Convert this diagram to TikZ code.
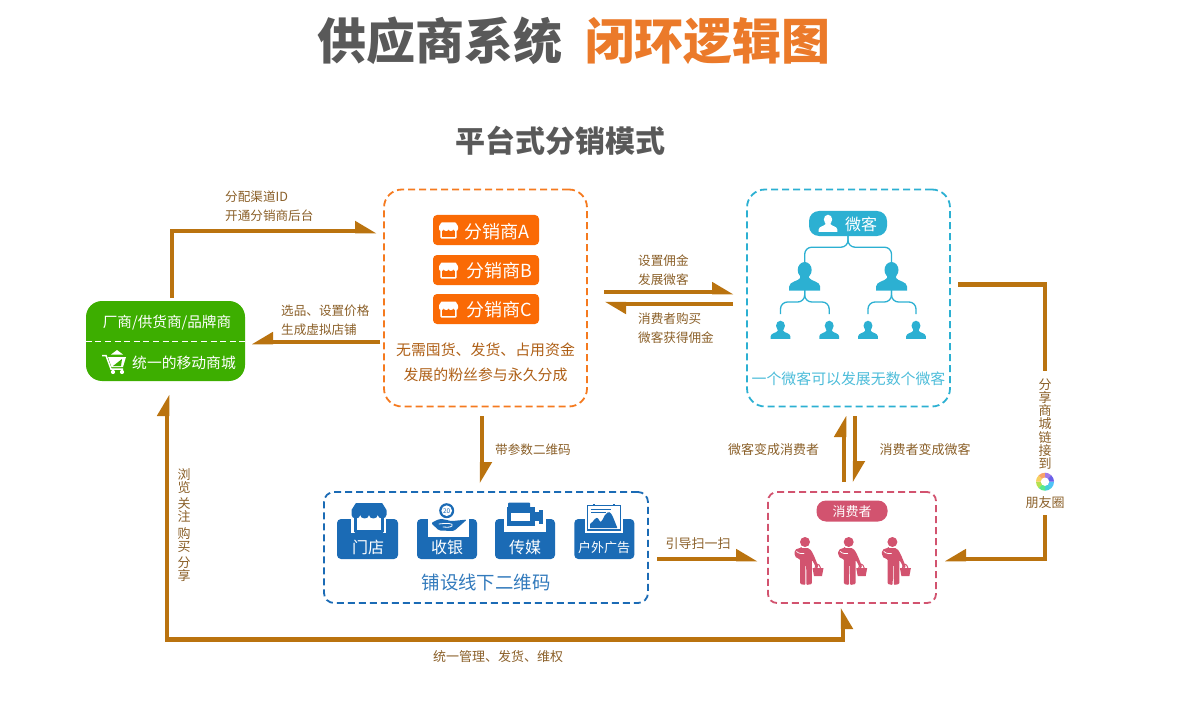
\documentclass[tikz,border=0pt]{standalone}
\usepackage{fontspec}
\setmainfont{Noto Sans CJK SC}
\usetikzlibrary{arrows.meta,calc}
\definecolor{flowc}{HTML}{BA730F}
\definecolor{labelc}{HTML}{8A5F28}
\definecolor{orangec}{HTML}{F57A1F}
\definecolor{btnc}{HTML}{FA6A05}
\definecolor{notec}{HTML}{AE5F16}
\definecolor{cyanc}{HTML}{2CB0D2}
\definecolor{bluec}{HTML}{1B6BB5}
\definecolor{pinkc}{HTML}{D2536F}
\definecolor{greenc}{HTML}{3DAE00}
\definecolor{titlegray}{HTML}{595959}
\definecolor{titleor}{HTML}{EB7A2A}
\pgfdeclarearrow{name=halfl,
  setup code={\pgfarrowssettipend{0pt}\pgfarrowssetlineend{-20pt}\pgfarrowssetbackend{-21pt}\pgfarrowssetvisualbackend{-21pt}\pgfarrowshullpoint{0pt}{-2.25pt}\pgfarrowshullpoint{-21pt}{10.25pt}\pgfarrowshullpoint{-21pt}{-2.25pt}},
  drawing code={\pgfpathmoveto{\pgfpoint{0pt}{-2.25pt}}\pgfpathlineto{\pgfpoint{-21pt}{10.25pt}}\pgfpathlineto{\pgfpoint{-21pt}{-2.25pt}}\pgfpathclose\pgfusepathqfill}}
\pgfdeclarearrow{name=halfr,
  setup code={\pgfarrowssettipend{0pt}\pgfarrowssetlineend{-20pt}\pgfarrowssetbackend{-21pt}\pgfarrowssetvisualbackend{-21pt}\pgfarrowshullpoint{0pt}{2.25pt}\pgfarrowshullpoint{-21pt}{-10.25pt}\pgfarrowshullpoint{-21pt}{2.25pt}},
  drawing code={\pgfpathmoveto{\pgfpoint{0pt}{2.25pt}}\pgfpathlineto{\pgfpoint{-21pt}{-10.25pt}}\pgfpathlineto{\pgfpoint{-21pt}{2.25pt}}\pgfpathclose\pgfusepathqfill}}
\tikzset{
  flow/.style={color=flowc,line width=4.5pt},
  conlabel/.style={text=labelc,font=\fontsize{12.6}{18.5}\selectfont,align=left,anchor=west,inner sep=0pt},
  edgelabel/.style={text=labelc,font=\fontsize{13}{13.2}\selectfont,align=center,inner sep=0pt},
  dashbox/.style={draw=#1,line width=1.8pt,dash pattern=on 7pt off 4pt,minimum width=0pt,inner sep=0pt},
  btn/.style={fill=btnc,rounded corners=4pt,minimum width=106pt,minimum height=30pt,inner sep=0pt},
  btntext/.style={text=white,font=\fontsize{18}{18}\selectfont,inner sep=0pt},
  icontext/.style={text=white,font=\fontsize{16}{16}\selectfont,inner sep=0pt},
  tree/.style={draw=cyanc,line width=1.3pt,rounded corners=7pt},
}
% store icon: origin top-left, 20 wide, 17 high
\newcommand{\storeicon}[5]{\begin{scope}[shift={(#1,#2)},scale=#3]
  \fill[#4,rounded corners=1pt] (1.5,4) rectangle (18.5,17);
  \fill[#5] (3,7) rectangle (17,15.5);
  \fill[#4,rounded corners=.5pt] (2.5,0) -- (17.5,0) -- (20,4) -- (20,6.5) .. controls (20,9.5) and (15,9.5) .. (15,6.5) .. controls (15,9.5) and (10,9.5) .. (10,6.5) .. controls (10,9.5) and (5,9.5) .. (5,6.5) .. controls (5,9.5) and (0,9.5) .. (0,6.5) -- (0,4) -- cycle;
\end{scope}}
% person: origin top centre, 31 wide, 28 high
\newcommand{\personicon}[4]{\begin{scope}[shift={(#1,#2)},scale=#3]
  \fill[#4] (0,7.5) ellipse [x radius=7,y radius=8];
  \fill[#4] (-4.5,12) -- (-4.5,15.5) .. controls (-6,18.5) and (-15.5,19) .. (-15.5,24) -- (-15.5,28) -- (15.5,28) -- (15.5,24) .. controls (15.5,19) and (6,18.5) .. (4.5,15.5) -- (4.5,12) -- cycle;
\end{scope}}
% shopper: origin head centre
\newcommand{\shopper}[2]{\begin{scope}[shift={(#1,#2)}]
  \fill[pinkc] (0,0) circle (5);
  \fill[pinkc,rounded corners=1pt] (-4,6) -- (2,6) .. controls (6.5,6.5) and (9.5,15) .. (13.5,25) -- (11,26.5) .. controls (9.5,22) and (8,19.5) .. (6.9,18) -- (6.9,42) -- (1.4,43) -- (1.2,23) -- (0.5,23) -- (0.3,43) -- (-4.8,42) -- (-4.8,17) .. controls (-8.5,17) and (-10.5,14) .. (-10.5,11) .. controls (-10.5,8) and (-8,6) .. (-4,6) -- cycle;
  \draw[white,line width=.7pt,line cap=round] (-8.5,9.5) .. controls (-6,12) and (-3,11.5) .. (-1,11.5);
  \fill[pinkc] (7.5,26) -- (18.5,26) -- (17,34) -- (9,34) -- cycle;
  \draw[pinkc,line width=1pt] (10,26) .. controls (10.5,21) and (14.5,21) .. (15.5,26);
\end{scope}}
\begin{document}
\begin{tikzpicture}[x=1pt,y=-1pt]
\useasboundingbox (0,0) rectangle (1187,706);
% titles
\node[text=titlegray,font=\fontsize{49}{49}\selectfont\bfseries,inner sep=0pt] (title1) at (440,41) {供应商系统};
\node[text=titleor,font=\fontsize{49}{49}\selectfont\bfseries,inner sep=0pt] (title2) at (707.5,41) {闭环逻辑图};
\node[text=titlegray,font=\fontsize{30}{30}\selectfont\bfseries,inner sep=0pt] (title3) at (560.5,141) {平台式分销模式};

% boxes
\node[dashbox=orangec,rounded corners=18pt,minimum width=203pt,minimum height=217pt] (dist) at (485.5,298) {};
\node[dashbox=cyanc,rounded corners=18pt,minimum width=203pt,minimum height=217pt] (micro) at (848.5,298) {};
\node[dashbox=bluec,rounded corners=10pt,minimum width=324pt,minimum height=111pt] (offline) at (486,547.5) {};
\node[dashbox=pinkc,rounded corners=9pt,minimum width=168pt,minimum height=111pt] (cons) at (852,547.5) {};

% mall
\node[fill=greenc,rounded corners=16pt,minimum width=159pt,minimum height=80pt,inner sep=0pt] (mall) at (165.5,341) {};
\node[text=white,font=\fontsize{14.6}{14.6}\selectfont,inner sep=0pt] (malla) at (167,323) {厂商/供货商/品牌商};
\draw[white,line width=1pt,dash pattern=on 6pt off 3.6pt] (mall.west) -- (mall.east);
\node[text=white,font=\fontsize{14.8}{14.8}\selectfont,inner sep=0pt] (mallb) at (184,362.5) {统一的移动商城};
\begin{scope}[shift={(102,350)}]
  \fill[white] (9,4.5) -- (15,0) -- (21,4.5) -- cycle;
  \draw[white,line width=1.5pt] (0,5.5) -- (4,5.5) -- (9,19) -- (21,19);
  \fill[white] (6,7) -- (24,7) -- (21,17) -- (9.5,17) -- cycle;
  \fill[greenc] (11,16) -- (20,9) -- (19,16) -- cycle;
  \fill[white] (11,22) circle (2.1) (20,22) circle (2.1);
\end{scope}

% distributor buttons
\node[btn] (btna) at (486,230) {};
\node[btn] (btnb) at (486,270) {};
\node[btn] (btnc) at (486,309) {};
\storeicon{439}{222.5}{.95}{white}{btnc}
\storeicon{439}{262.5}{.95}{white}{btnc}
\storeicon{439}{301.5}{.95}{white}{btnc}
\node[btntext,anchor=west] (ta) at (464,231.3) {分销商A};
\node[btntext,anchor=west] (tb) at (466,271) {分销商B};
\node[btntext,anchor=west] (tc) at (466,310) {分销商C};
\node[text=notec,font=\fontsize{14.9}{25}\selectfont,align=center,inner sep=0pt] (distnote) at (485.5,362.8) {无需囤货、发货、占用资金\\发展的粉丝参与永久分成};

% micro customers
\node[fill=cyanc,rounded corners=10pt,minimum width=78pt,minimum height=25pt,inner sep=0pt] (wk) at (848,223.5) {};
\node[text=white,font=\fontsize{16}{16}\selectfont,inner sep=0pt] (wkt) at (861,224) {微客};
\personicon{828}{215}{.6}{white}
\coordinate (p1) at (804.7,262);
\coordinate (p2) at (891.5,262);
\coordinate (c1) at (780.5,320);
\coordinate (c2) at (829.2,320);
\coordinate (c3) at (868,320);
\coordinate (c4) at (916,320);
\draw[tree] (wk.south) -- ++(0,11) -| (p1);
\draw[tree] (wk.south) -- ++(0,11) -| (p2);
\personicon{804.7}{262.5}{1}{cyanc}
\personicon{891.5}{262.5}{1}{cyanc}
\coordinate (p1b) at (804.7,290);
\coordinate (p2b) at (891.5,290);
\draw[tree] (p1b) -- ++(0,12) -| ($(c1)+(0,-6)$);
\draw[tree] (p1b) -- ++(0,12) -| ($(c2)+(0,-6)$);
\draw[tree] (p2b) -- ++(0,12) -| ($(c3)+(0,-6)$);
\draw[tree] (p2b) -- ++(0,12) -| ($(c4)+(0,-6)$);
\personicon{780.5}{321}{.64}{cyanc}
\personicon{829.2}{321}{.64}{cyanc}
\personicon{868}{321}{.64}{cyanc}
\personicon{916}{321}{.64}{cyanc}
\node[text=cyanc!85!white,font=\fontsize{14.9}{14.9}\selectfont,inner sep=0pt] (micronote) at (848.5,379) {一个微客可以发展无数个微客};

% offline blocks
\foreach \n/\x/\w/\nl/\nr/\nb in {o1/337/61/351/386/533,o2/417/60/428/469/537,o3/495/60/504/546/532,o4/574.3/60/585/623/533}{
  \fill[bluec,rounded corners=4pt] (\x,519) rectangle ++(\w,40);
  \fill[white] (\nl,517) rectangle (\nr,\nb);
}
\node[icontext] (t1) at (368,547) {门店};
\node[icontext] (t2) at (447,547) {收银};
\node[icontext] (t3) at (525,547) {传媒};
\node[text=white,font=\fontsize{13}{13}\selectfont,inner sep=0pt] (t4) at (604,547.5) {户外广告};
\storeicon{351.5}{503}{1.75}{bluec}{white}
% coin and hand
\fill[bluec] (446.7,510.7) circle (7.5);
\fill[white] (446.7,510.7) circle (5.3);
\node[text=bluec,font=\fontsize{6.5}{6.5}\selectfont,inner sep=0pt] (coin) at (446.7,510.7) {20};
\fill[bluec,rounded corners=1.5pt] (431,523) -- (438,519.5) .. controls (444,518.5) and (449,521) .. (453,521) -- (467,519.5) -- (454,531) -- (439,530.5) -- cycle;
\draw[white,line width=.8pt,line cap=round] (439,524) .. controls (445,523) and (455,523) .. (452,526) .. controls (450,527.5) and (446,527.5) .. (443,527);
% camera
\fill[bluec,rounded corners=1pt] (508,502.5) rectangle (530,509);
\fill[bluec] (506.5,507) rectangle (534.5,526);
\fill[white] (511,512.5) rectangle (530,520.5);
\fill[bluec] (534,512) rectangle (539,521);
\fill[bluec] (539,509.5) rectangle (543,524);
% billboard
\draw[bluec,line width=1.8pt] (587.5,505.5) rectangle (620.5,530);
\draw[bluec,line width=1.5pt] (594,504) -- (594,505.5) (614,504) -- (614,505.5);
\fill[bluec] (590,524) .. controls (594,522) and (596,514) .. (599,520) .. controls (602,526) and (604,514) .. (606,514) .. controls (611,508) and (613,518) .. (617,527) -- (617,528) -- (590,528) -- cycle;
\draw[bluec,line width=.8pt] (591,509.5) -- (611,509.5) (591,512.5) -- (606,512.5);
\node[text=bluec!90!white,font=\fontsize{18.4}{18.4}\selectfont,inner sep=0pt] (offnote) at (486,582.5) {铺设线下二维码};

% consumers
\node[fill=pinkc,rounded corners=9.5pt,minimum width=71pt,minimum height=21pt,inner sep=0pt] (conspill) at (852,511) {};
\node[text=white,font=\fontsize{13}{13}\selectfont,inner sep=0pt] (conspillt) at (852,511.5) {消费者};
\shopper{805}{542}
\shopper{848.7}{542}
\shopper{892.4}{542}

% moments icon
\begin{scope}[shift={(1045,481.7)}]
  \foreach \a/\c in {0/4FC3F7,45/45D0D8,90/5AE88A,135/B6E04F,180/F7D060,225/F9A36A,270/A27BE8,315/6A5FE8}{
    \definecolor{wedge}{HTML}{\c}
    \fill[wedge] (0,0) -- (\a:9) arc[start angle=\a,end angle=\a+45,radius=9] -- cycle;
  }
  \fill[white] (0,0) circle (4.2);
\end{scope}

% connectors
\coordinate (a1s) at (172,298);
\coordinate (a1e) at (376,231);
\draw[flow,-halfl] (a1s) |- (a1e);
\node[conlabel] (l1) at (225,206) {分配渠道ID\\开通分销商后台};

\coordinate (a2s) at (380,342);
\coordinate (a2e) at (252,342);
\draw[flow,-halfr] (a2s) -- (a2e);
\node[conlabel] (l2) at (281,320) {选品、设置价格\\生成虚拟店铺};

\coordinate (a3s) at (604,292);
\coordinate (a3e) at (733,292);
\draw[flow,-halfl] (a3s) -- (a3e);
\node[conlabel] (l3) at (638,270) {设置佣金\\发展微客};

\coordinate (a4s) at (733,304);
\coordinate (a4e) at (605,304);
\draw[flow,-halfl] (a4s) -- (a4e);
\node[conlabel] (l4) at (638,328) {消费者购买\\微客获得佣金};

\coordinate (a5s) at (482,416);
\coordinate (a5e) at (482,483);
\draw[flow,-halfl] (a5s) -- (a5e);
\node[conlabel] (l5) at (495,449.5) {带参数二维码};

\coordinate (a6s) at (844,482);
\coordinate (a6e) at (844,416);
\draw[flow,-halfl] (a6s) -- (a6e);
\node[edgelabel] (l6) at (773.5,449.5) {微客变成消费者};

\coordinate (a7s) at (855,416);
\coordinate (a7e) at (855,482);
\draw[flow,-halfl] (a7s) -- (a7e);
\node[edgelabel] (l7) at (925,449.5) {消费者变成微客};

\coordinate (a8s) at (657,559);
\coordinate (a8e) at (757,559);
\draw[flow,-halfl] (a8s) -- (a8e);
\node[edgelabel] (l8) at (698,544) {引导扫一扫};

\coordinate (a9s) at (958,284.5);
\coordinate (a9m) at (1045,371);
\draw[flow] (a9s) -| (a9m);
\node[edgelabel] (l9) at (1045,424) {分\\享\\商\\城\\链\\接\\到};
\node[edgelabel] (l9b) at (1045,503) {朋友圈};
\coordinate (a10s) at (1045,515);
\coordinate (a10e) at (945,559);
\draw[flow,-halfr] (a10s) |- (a10e);

\coordinate (a11s) at (167,395);
\coordinate (a11m) at (167,639.5);
\coordinate (a11e) at (843,608);
\draw[flow,halfl-halfr] (a11s) -- (a11m) -| (a11e);
\node[text=labelc,font=\fontsize{13}{13}\selectfont,align=center,inner sep=0pt] (l11) at (184,525) {浏\\览\\[3.5pt]关\\注\\[3.5pt]购\\买\\[3.5pt]分\\享};
\node[edgelabel] (l12) at (498,656.5) {统一管理、发货、维权};
\end{tikzpicture}
\end{document}
